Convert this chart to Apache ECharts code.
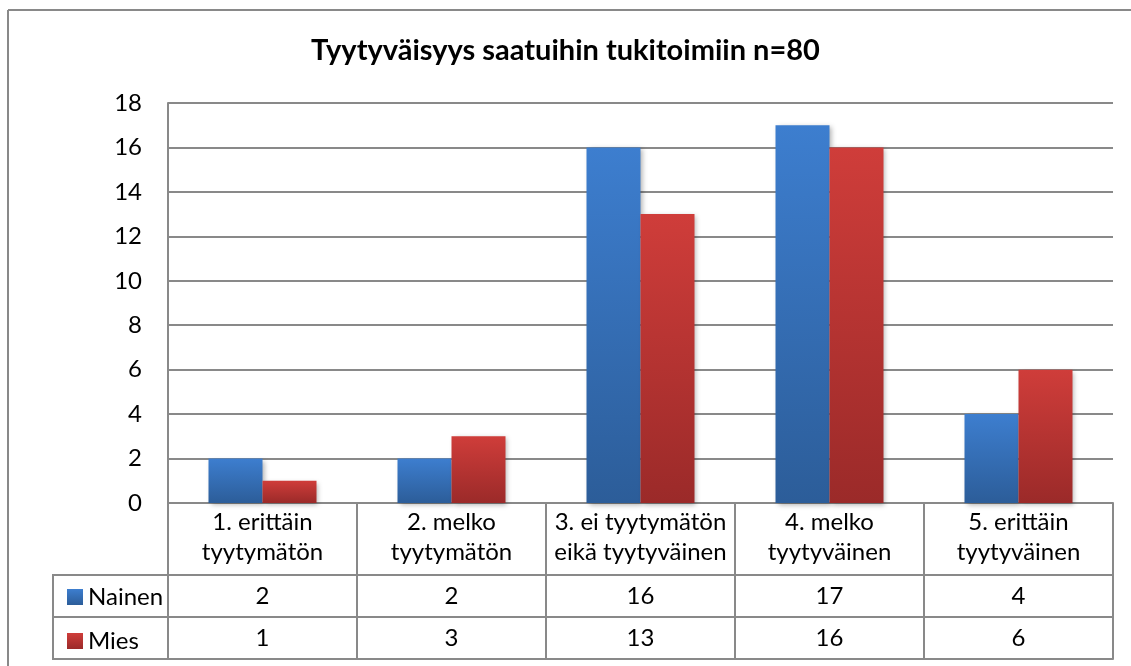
<!DOCTYPE html>
<html>
<head>
<meta charset="utf-8">
<script src="https://cdn.jsdelivr.net/npm/echarts@6/dist/echarts.min.js"></script>
<style>
html,body{margin:0;padding:0;background:#fff;}
#c{width:1131px;height:666px;}
</style>
</head>
<body>
<div id="c"></div>
<script>
var titleText = 'Tyytyväisyys saatuihin tukitoimiin n=80';
var categories = ['1. erittäin\ntyytymätön', '2. melko\ntyytymätön', '3. ei tyytymätön\neikä tyytyväinen', '4. melko\ntyytyväinen', '5. erittäin\ntyytyväinen'];
var seriesNames = ['Nainen', 'Mies'];
var nainen = [2, 2, 16, 17, 4];
var mies = [1, 3, 13, 16, 6];
var yTicks = {min: 0, max: 18, interval: 2};

var FONT = 'Lato';
var LINE = '#898989';
var FS = 24;

function grad(top, bottom) {
  return new echarts.graphic.LinearGradient(0, 0, 0, 1, [
    {offset: 0, color: top}, {offset: 1, color: bottom}
  ]);
}

var chart = echarts.init(document.getElementById('c'), null, {renderer: 'canvas'});

var baseX = {
  type: 'category', data: categories, gridIndex: 0, position: 'bottom',
  axisLine: {show: true, lineStyle: {color: LINE, width: 2}},
  axisTick: {show: false},
  splitLine: {show: false}
};

var option = {
  animation: false,
  backgroundColor: '#ffffff',
  textStyle: {fontFamily: FONT},
  title: {
    text: titleText, left: 'center', top: 31,
    textStyle: {fontFamily: FONT, fontWeight: 'bold', fontSize: 29, color: '#000'}
  },
  legend: {
    data: seriesNames, orient: 'vertical', left: 62, top: 579,
    icon: 'rect', itemWidth: 16, itemHeight: 16, itemGap: 18,
    selectedMode: false,
    textStyle: {fontFamily: FONT, fontSize: FS, color: '#000', lineHeight: 26}
  },
  grid: {left: 168, top: 103, right: 18, bottom: 163, containLabel: false},
  xAxis: [
    Object.assign({}, baseX, {
      axisTick: {show: true, length: 156, inside: false, alignWithLabel: false, interval: 0,
        lineStyle: {color: LINE, width: 2}},
      axisLabel: {interval: 0, margin: 4, fontFamily: FONT, fontSize: FS, color: '#000', lineHeight: 30, align: 'center'}
    }),
    Object.assign({}, baseX, {
      offset: 72,
      axisLabel: {interval: 0, margin: 9, fontFamily: FONT, fontSize: FS, color: '#000',
        formatter: function (v, i) { return String(nainen[i]); }}
    }),
    Object.assign({}, baseX, {
      offset: 114,
      axisLabel: {interval: 0, margin: 9, fontFamily: FONT, fontSize: FS, color: '#000',
        formatter: function (v, i) { return String(mies[i]); }}
    }),
    Object.assign({}, baseX, {
      offset: 156,
      axisLabel: {show: false}
    })
  ],
  yAxis: {
    type: 'value', min: yTicks.min, max: yTicks.max, interval: yTicks.interval,
    axisLine: {show: true, lineStyle: {color: LINE, width: 2}},
    axisTick: {show: false},
    axisLabel: {margin: 26, fontFamily: FONT, fontSize: FS, color: '#000'},
    splitLine: {show: true, lineStyle: {color: LINE, width: 2}}
  },
  series: [
    {
      name: seriesNames[0], type: 'bar', data: nainen, xAxisIndex: 0,
      barGap: '0%', barCategoryGap: '42.86%',
      itemStyle: {color: grad('#3d7ecf', '#2c5d99'),
        shadowBlur: 5, shadowColor: 'rgba(0,0,0,0.3)', shadowOffsetX: 2, shadowOffsetY: 2}
    },
    {
      name: seriesNames[1], type: 'bar', data: mies, xAxisIndex: 0,
      barGap: '0%', barCategoryGap: '42.86%',
      itemStyle: {color: grad('#cf3d3a', '#9b2a29'),
        shadowBlur: 5, shadowColor: 'rgba(0,0,0,0.3)', shadowOffsetX: 2, shadowOffsetY: 2}
    }
  ],
  graphic: [
    {type: 'line', shape: {x1: 8, y1: 10, x2: 8, y2: 666}, style: {stroke: LINE, lineWidth: 2}},
    {type: 'line', shape: {x1: 8, y1: 10, x2: 1131, y2: 10}, style: {stroke: LINE, lineWidth: 2}},
    {type: 'line', shape: {x1: 53, y1: 575, x2: 168, y2: 575}, style: {stroke: LINE, lineWidth: 2}},
    {type: 'line', shape: {x1: 53, y1: 617, x2: 168, y2: 617}, style: {stroke: LINE, lineWidth: 2}},
    {type: 'line', shape: {x1: 53, y1: 659, x2: 168, y2: 659}, style: {stroke: LINE, lineWidth: 2}},
    {type: 'line', shape: {x1: 53, y1: 574, x2: 53, y2: 660}, style: {stroke: LINE, lineWidth: 2}}
  ]
};
chart.setOption(option);
</script>
</body>
</html>
